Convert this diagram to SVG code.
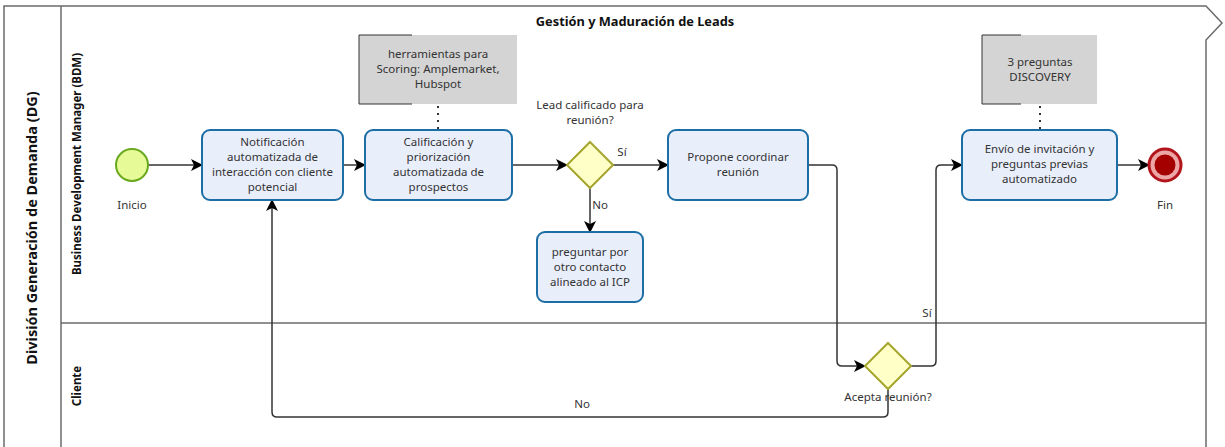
<svg xmlns="http://www.w3.org/2000/svg" width="1225" height="447" viewBox="0 0 1225 447">
  <style>
    .pool { fill: none; stroke: #6b6b6b; stroke-width: 1.5; }
    .task { fill: #e9eefb; stroke: #1c6ea4; stroke-width: 2; }
    .gw { fill: #ffffc8; stroke: #a5a52e; stroke-width: 2; }
    .flow { fill: none; stroke: #333; stroke-width: 1.5; }
    .assoc { fill: none; stroke: #333; stroke-width: 2; stroke-dasharray: 2 5; }
    .note { fill: #d4d4d4; }
    .bracket { fill: none; stroke: #333; stroke-width: 1; }
    text { font-family: "Noto Sans", "Open Sans", sans-serif; font-size: 11.5px; fill: #333; text-anchor: middle; }
    .bold { font-weight: bold; fill: #111; }
    .title { font-size: 12.8px; }
    .pool-label { font-size: 14.5px; }
  </style>
  <defs>
    <marker id="arrow" markerUnits="userSpaceOnUse" markerWidth="12" markerHeight="12" refX="11" refY="6" orient="auto">
      <path d="M0,0 L12,6 L0,12 L3,6 z" fill="#000"/>
    </marker>
  </defs>

  <rect width="1225" height="447" fill="#fff"/>

  <!-- pool and lanes -->
  <g id="pool">
    <path class="pool" d="M4,460 V6 H1206 L1222,23 L1206,40 V460"/>
    <line class="pool" x1="61" y1="6" x2="61" y2="460"/>
    <line class="pool" x1="61" y1="323" x2="1206" y2="323"/>
    <text class="bold title" x="635" y="26">Gestión y Maduración de Leads</text>
    <text class="bold pool-label" transform="translate(37,228) rotate(-90)">División Generación de Demanda (DG)</text>
  </g>
  <g id="lane-bdm">
    <text class="bold" transform="translate(81,164) rotate(-90)">Business Development Manager (BDM)</text>
  </g>
  <g id="lane-cliente">
    <text class="bold" transform="translate(81,386) rotate(-90)">Cliente</text>
  </g>

  <!-- sequence flows and associations -->
  <g id="connectors">
    <path class="flow" d="M148,165 H202" marker-end="url(#arrow)"/>
    <path class="flow" d="M343,165 H365" marker-end="url(#arrow)"/>
    <path class="flow" d="M512,165 H567" marker-end="url(#arrow)"/>
    <path class="flow" d="M613,165 H668" marker-end="url(#arrow)"/>
    <path class="flow" d="M590,188 V232" marker-end="url(#arrow)"/>
    <path class="flow" d="M808,165 H832 Q837,165 837,170 V361 Q837,366 842,366 H865" marker-end="url(#arrow)"/>
    <path class="flow" d="M911,366 H931 Q936,366 936,361 V170 Q936,165 941,165 H962" marker-end="url(#arrow)"/>
    <path class="flow" d="M888,389 V412 Q888,417 883,417 H277 Q272,417 272,412 V200" marker-end="url(#arrow)"/>
    <path class="flow" d="M1117,165 H1149" marker-end="url(#arrow)"/>
    <path class="assoc" d="M438,106 V130"/>
    <path class="assoc" d="M1040,106 V130"/>
    <text x="622" y="156">Sí</text>
    <text x="600" y="209">No</text>
    <text x="927" y="317">Sí</text>
    <text x="582" y="408">No</text>
  </g>

  <g id="start">
    <circle cx="132" cy="165" r="16" fill="#e6fb98" stroke="#6aa81e" stroke-width="2"/>
    <text x="132" y="209">Inicio</text>
  </g>

  <g id="task-notificacion">
    <rect class="task" x="202" y="130" width="141" height="70" rx="8"/>
    <text x="272.5" y="146">Notificación</text>
    <text x="272.5" y="161">automatizada de</text>
    <text x="272.5" y="176">interacción con cliente</text>
    <text x="272.5" y="191">potencial</text>
  </g>

  <g id="task-calificacion">
    <rect class="task" x="365" y="130" width="147" height="70" rx="8"/>
    <text x="438.5" y="146">Calificación y</text>
    <text x="438.5" y="161">priorización</text>
    <text x="438.5" y="176">automatizada de</text>
    <text x="438.5" y="191">prospectos</text>
  </g>

  <g id="note-scoring">
    <rect class="note" x="359" y="35" width="158" height="69"/>
    <path class="bracket" d="M412,35 H359 V104 H412"/>
    <text x="438" y="58">herramientas para</text>
    <text x="438" y="73">Scoring: Amplemarket,</text>
    <text x="438" y="88">Hubspot</text>
  </g>

  <g id="gw-lead">
    <polygon class="gw" points="590,142 613,165 590,188 567,165"/>
    <text x="590" y="109">Lead calificado para</text>
    <text x="590" y="124">reunión?</text>
  </g>

  <g id="task-preguntar">
    <rect class="task" x="537" y="232" width="106" height="70" rx="8"/>
    <text x="590" y="256">preguntar por</text>
    <text x="590" y="271">otro contacto</text>
    <text x="590" y="286">alineado al ICP</text>
  </g>

  <g id="task-propone">
    <rect class="task" x="668" y="130" width="140" height="70" rx="8"/>
    <text x="738" y="161">Propone coordinar</text>
    <text x="738" y="176">reunión</text>
  </g>

  <g id="gw-acepta">
    <polygon class="gw" points="888,343 911,366 888,389 865,366"/>
    <text x="888" y="401">Acepta reunión?</text>
  </g>

  <g id="note-discovery">
    <rect class="note" x="982" y="35" width="115" height="69"/>
    <path class="bracket" d="M1021,35 H982 V104 H1021"/>
    <text x="1040" y="66">3 preguntas</text>
    <text x="1040" y="81">DISCOVERY</text>
  </g>

  <g id="task-envio">
    <rect class="task" x="962" y="130" width="155" height="70" rx="8"/>
    <text x="1039.5" y="153">Envío de invitación y</text>
    <text x="1039.5" y="168">preguntas previas</text>
    <text x="1039.5" y="183">automatizado</text>
  </g>

  <g id="end">
    <circle cx="1165" cy="165" r="16" fill="#eca6a6" stroke="#b3131b" stroke-width="3"/>
    <circle cx="1165" cy="165" r="10.5" fill="#a50000"/>
    <text x="1165" y="209">Fin</text>
  </g>
</svg>
